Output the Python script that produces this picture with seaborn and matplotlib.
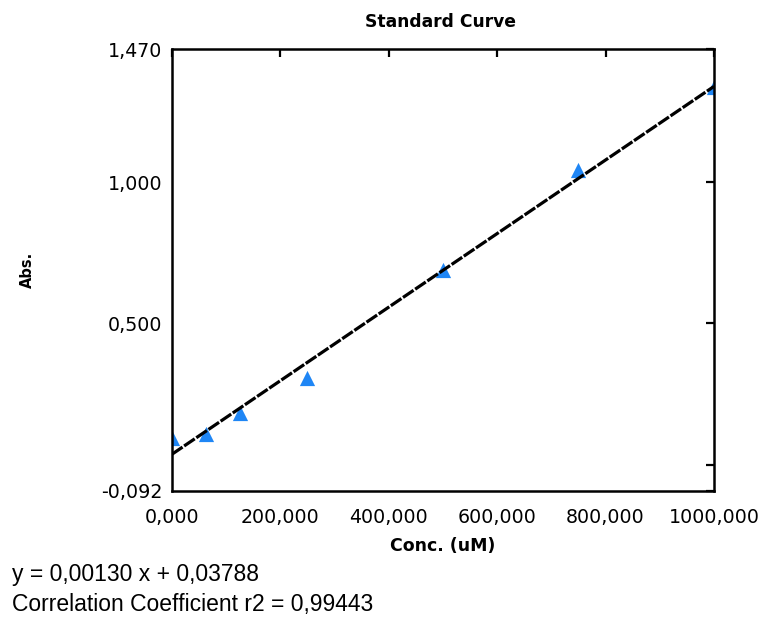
import numpy as np
import pandas as pd
import matplotlib
matplotlib.use("Agg")
import matplotlib.pyplot as plt
import seaborn as sns

# standard points
conc = [0, 62.5, 125, 250, 500, 750, 1000]
absorb = [0.095, 0.110, 0.184, 0.307, 0.689, 1.042, 1.336]

# fit reported under the chart
slope = 0.00130
intercept = 0.03788
r2 = 0.99443

x_ticks = [0, 200, 400, 600, 800, 1000]
x_labels = ["0,000", "200,000", "400,000", "600,000", "800,000", "1000,000"]
y_ticks = [-0.092, 0.0, 0.5, 1.0, 1.47]
y_labels = ["-0,092", "", "0,500", "1,000", "1,470"]

pts = pd.DataFrame({"conc": conc, "abs": absorb})
fit_x = np.array([min(conc), max(conc)])
fit = pd.DataFrame({"conc": fit_x, "abs": slope * fit_x + intercept})

sns.set_style("white")
plt.rcParams["font.family"] = ["DejaVu Sans"]
plt.rcParams["text.color"] = "black"
plt.rcParams["axes.labelcolor"] = "black"

fig = plt.figure(figsize=(7.62, 6.19), dpi=100)
ax = fig.add_axes([0.2257, 0.2068, 0.9370 - 0.2257, 0.9208 - 0.2068])

sns.scatterplot(data=pts, x="conc", y="abs", marker="^", s=120, color="#1f86f5",
                edgecolor="#1f86f5", linewidth=0, ax=ax, zorder=2)
sns.lineplot(data=fit, x="conc", y="abs", color="black", linewidth=2.3,
             dashes=False, ax=ax, zorder=3)
ax.lines[0].set_dashes((4, 0.6))

ax.set_xlim(0, 1000)
ax.set_ylim(-0.092, 1.47)
ax.set_xticks(x_ticks)
ax.set_xticklabels(x_labels)
ax.set_yticks(y_ticks)
ax.set_yticklabels(y_labels)

for s in ax.spines.values():
    s.set_visible(True)
    s.set_color("black")
    s.set_linewidth(1.8)

ax.tick_params(axis="both", direction="in", length=6, width=1.6, colors="black",
               labelsize=13.7, top=True, right=True)
ax.tick_params(axis="x", pad=12)
ax.tick_params(axis="y", pad=7)

ax.set_xlabel("Conc. (uM)", fontsize=12.5, fontweight="bold", va="center")
ax.xaxis.set_label_coords(0.5, -0.124)
ax.set_ylabel("Abs.", fontsize=10.5, fontweight="bold", va="center")
ax.yaxis.set_label_coords(-0.2675, 0.5)

fig.text(440 / 762, 1 - 22 / 619, "Standard Curve", ha="center", va="center",
         fontsize=12.3, fontweight="bold")

fig.text(12 / 762, 1 - 575 / 619, "y = 0,00130 x + 0,03788", ha="left", va="center",
         fontsize=16.5, family="Liberation Sans")
fig.text(12 / 762, 1 - 605 / 619, "Correlation Coefficient r2 = 0,99443", ha="left",
         va="center", fontsize=16.5, family="Liberation Sans")

fig.savefig("out.png", dpi=100)
